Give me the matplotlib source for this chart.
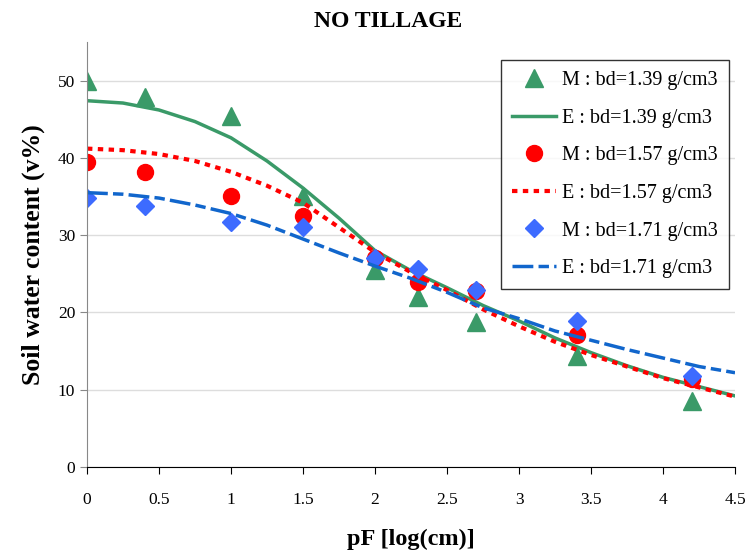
import matplotlib
matplotlib.use('Agg')
import matplotlib.pyplot as plt

# measured points (pF)
pf_meas = [0, 0.4, 1.0, 1.5, 2.0, 2.3, 2.7, 3.4, 4.2]
m_139 = [50.0, 47.9, 45.4, 35.1, 25.5, 22.0, 18.8, 14.4, 8.5]
m_157 = [39.5, 38.2, 35.1, 32.5, 27.0, 24.0, 22.8, 17.1, 11.4]
m_171 = [34.8, 33.8, 31.7, 31.1, 27.0, 25.6, 22.9, 18.9, 11.8]

# estimated curves
pf_est = [0, 0.25, 0.5, 0.75, 1.0, 1.25, 1.5, 1.75, 2.0, 2.25, 2.5,
          2.75, 3.0, 3.25, 3.5, 3.75, 4.0, 4.25, 4.5]
e_139 = [47.4, 47.1, 46.2, 44.7, 42.6, 39.6, 36.1, 32.2, 28.0, 25.4, 23.2,
         20.9, 18.9, 16.7, 14.8, 13.1, 11.6, 10.4, 9.2]
e_157 = [41.2, 41.0, 40.5, 39.6, 38.2, 36.4, 34.2, 31.0, 27.8, 25.2, 22.9,
         20.4, 18.2, 16.2, 14.5, 13.0, 11.5, 10.3, 9.1]
e_171 = [35.5, 35.3, 34.8, 33.9, 32.8, 31.3, 29.5, 27.7, 26.0, 24.4, 22.6,
         20.6, 19.2, 17.6, 16.4, 15.2, 14.1, 13.0, 12.2]

plt.rcParams['font.family'] = 'Liberation Serif'

green = '#3A9A68'
red = '#FF0000'
blue_m = '#3D6BFF'
blue_l = '#1166CC'

fig = plt.figure(figsize=(7.46, 5.59), dpi=100)
ax = fig.add_axes([0.1166, 0.1646, 0.8687, 0.7603])

ax.plot(pf_meas, m_139, linestyle='none', marker='^', markersize=13,
        color=green, label='M : bd=1.39 g/cm3')
ax.plot(pf_est, e_139, color=green, linewidth=2.5, label='E : bd=1.39 g/cm3')
ax.plot(pf_meas, m_157, linestyle='none', marker='o', markersize=11.5,
        color=red, label='M : bd=1.57 g/cm3')
ax.plot(pf_est, e_157, color=red, linewidth=3, dashes=(1.3, 1.3),
        label='E : bd=1.57 g/cm3')
ax.plot(pf_meas, m_171, linestyle='none', marker='D', markersize=9,
        color=blue_m, label='M : bd=1.71 g/cm3')
ax.plot(pf_est, e_171, color=blue_l, linewidth=2.5, dashes=(6, 1.5, 3, 1.5),
        label='E : bd=1.71 g/cm3')

ax.set_xlim(0, 4.5)
ax.set_ylim(0, 55)
ax.set_xticks([0, 0.5, 1, 1.5, 2, 2.5, 3, 3.5, 4, 4.5])
ax.set_xticklabels(['0', '0.5', '1', '1.5', '2', '2.5', '3', '3.5', '4', '4.5'])
ax.set_yticks([0, 10, 20, 30, 40, 50])
ax.yaxis.grid(True, color='#DDDDDD', linewidth=1)
ax.set_axisbelow(True)

for s in ['top', 'right']:
    ax.spines[s].set_visible(False)
ax.spines['left'].set_color('#888888')
ax.spines['bottom'].set_color('black')
ax.tick_params(axis='y', colors='#888888', labelcolor='black', labelsize=12.5,
               length=5, direction='out')
ax.tick_params(axis='x', labelsize=12.5, length=5, direction='out', pad=13)

ax.set_xlabel('pF [log(cm)]', fontsize=17.5, fontweight='bold', labelpad=15)
ax.set_ylabel('Soil water content (v%)', fontsize=18.5, fontweight='bold',
              labelpad=9)
fig.text(0.52, 0.962, 'NO TILLAGE', ha='center', va='center', fontsize=17,
         fontweight='bold')

leg = ax.legend(loc='upper right', bbox_to_anchor=(0.991, 0.958), fontsize=14.5,
                frameon=True, fancybox=False, edgecolor='black',
                handlelength=2.2, labelspacing=0.92, borderpad=0.55,
                handletextpad=0.3, borderaxespad=0)
leg.get_frame().set_linewidth(1)

fig.savefig('out.png', dpi=100)
